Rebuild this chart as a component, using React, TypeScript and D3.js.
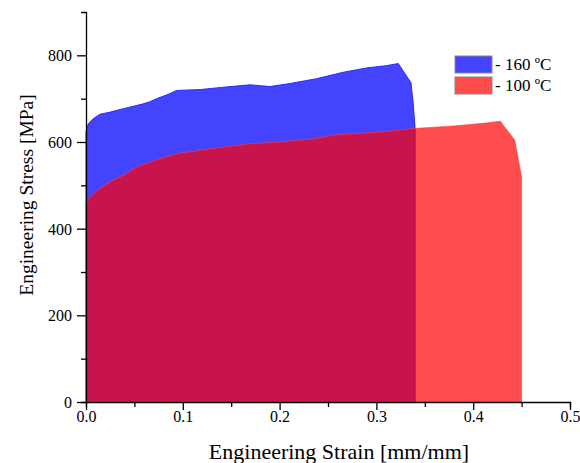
import React, { useEffect, useRef } from 'react';
import * as d3 from 'd3';

// 160 ºC curve: [strain, stress]
const strain160 = [0, 0.0024, 0.0076, 0.0145, 0.025, 0.0386, 0.052, 0.059, 0.066, 0.073, 0.085, 0.0937, 0.118, 0.14, 0.1694, 0.19, 0.211, 0.238, 0.266, 0.29, 0.31, 0.3226, 0.3357, 0.338, 0.34, 0.34];
const stress160 = [623, 642, 654, 664, 669, 677, 684, 688, 693, 700, 710, 719, 721, 726, 732, 728, 735, 746, 761, 771, 776, 781, 737, 690, 630, 0];

// 100 ºC curve
const strain100 = [0, 0.004, 0.0145, 0.028, 0.042, 0.052, 0.073, 0.094, 0.131, 0.169, 0.2, 0.238, 0.255, 0.304, 0.338, 0.38, 0.41, 0.428, 0.443, 0.45, 0.45];
const stress100 = [454, 473, 493, 512, 527, 542, 559, 573, 585, 596, 600, 608, 616, 623, 631, 637, 643, 648, 604, 519, 0];

const legendLabels = ['- 160 ºC', '- 100 ºC'];
const xTicks = [0, 0.1, 0.2, 0.3, 0.4, 0.5];
const yTicks = [0, 200, 400, 600, 800];

const W = 580;
const H = 463;
const margin = { left: 86, right: 10, top: 12, bottom: 61 };

const App = () => {
  const svgRef = useRef<SVGSVGElement>(null);

  useEffect(() => {
    const svg = d3.select(svgRef.current);
    svg.selectAll('*').remove();
    const font = '"Liberation Serif", "Times New Roman", serif';

    const x = d3.scaleLinear().domain([0, 0.5]).range([margin.left, 570]);
    const y = d3.scaleLinear().domain([0, 900]).range([H - margin.bottom, margin.top]);

    const mk = (xs: number[], ys: number[]) =>
      d3.line<number>().x(i => x(xs[i])).y(i => y(ys[i]))(xs.map((_, i) => i)) + 'Z';

    // 160 (blue) underneath
    svg.append('path')
      .attr('d', mk([0, ...strain160], [0, ...stress160]))
      .attr('fill', 'rgb(68,68,255)')
      .attr('stroke', '#2a2aff')
      .attr('stroke-width', 1);

    // 100 (red) on top, translucent
    svg.append('path')
      .attr('d', mk([0, ...strain100], [0, ...stress100]))
      .attr('fill', 'rgb(255,0,0)')
      .attr('fill-opacity', 0.7)
      .attr('stroke', 'rgb(255,60,60)')
      .attr('stroke-opacity', 0.6)
      .attr('stroke-width', 1);

    // x axis
    const gx = svg.append('g').attr('transform', `translate(0,${y(0)})`);
    gx.call(d3.axisBottom(x).tickValues(d3.range(0, 0.5001, 0.05)).tickSize(5).tickFormat(() => ''));
    gx.selectAll('.tick line').attr('y2', (d: any) => (Math.round(d * 100) % 10 === 0 ? 8 : 5));
    gx.selectAll('.tick').each(function (d: any) {
      if (xTicks.some(t => Math.abs(t - d) < 1e-6)) {
        d3.select(this).append('text')
          .attr('y', 20)
          .attr('text-anchor', 'middle')
          .attr('fill', '#000')
          .style('font-family', font)
          .style('font-size', '16px')
          .text(d3.format('.1f')(d));
      }
    });

    // y axis
    const gy = svg.append('g').attr('transform', `translate(${margin.left},0)`);
    gy.call(d3.axisLeft(y).tickValues(d3.range(0, 801, 100)).tickSize(5).tickFormat(() => ''));
    gy.selectAll('.tick line').attr('x2', (d: any) => (d % 200 === 0 ? -9 : -5));
    gy.selectAll('.tick').each(function (d: any) {
      if (yTicks.includes(d)) {
        d3.select(this).append('text')
          .attr('x', -14)
          .attr('dy', '0.35em')
          .attr('text-anchor', 'end')
          .attr('fill', '#000')
          .style('font-family', font)
          .style('font-size', '16px')
          .text(String(d));
      }
    });
    svg.selectAll('.domain').attr('stroke', '#000').attr('stroke-width', 1.3);
    svg.selectAll('.tick line').attr('stroke', '#000').attr('stroke-width', 1.3);

    // axis titles
    svg.append('text')
      .attr('x', 339)
      .attr('y', 459)
      .attr('text-anchor', 'middle')
      .style('font-family', font)
      .style('font-size', '22px')
      .text('Engineering Strain [mm/mm]');

    svg.append('text')
      .attr('transform', 'translate(33,195) rotate(-90)')
      .attr('text-anchor', 'middle')
      .style('font-family', font)
      .style('font-size', '19.5px')
      .text('Engineering Stress [MPa]');

    // legend
    const lg = svg.append('g').attr('transform', 'translate(455,56)');
    const legendFill = ['rgb(68,68,255)', 'rgb(255,77,77)'];
    legendLabels.forEach((lab, i) => {
      lg.append('rect')
        .attr('x', 0)
        .attr('y', i * 21)
        .attr('width', 37)
        .attr('height', 17)
        .attr('fill', legendFill[i])
        .attr('stroke', '#888')
        .attr('stroke-width', 1);
      lg.append('text')
        .attr('x', 40)
        .attr('y', i * 21 + 14)
        .style('font-family', font)
        .style('font-size', '17px')
        .text(lab);
    });
  }, []);

  return <svg ref={svgRef} width={W} height={H} style={{ position: 'absolute', left: 0, top: 0, background: '#fff' }} />;
};

export default App;
